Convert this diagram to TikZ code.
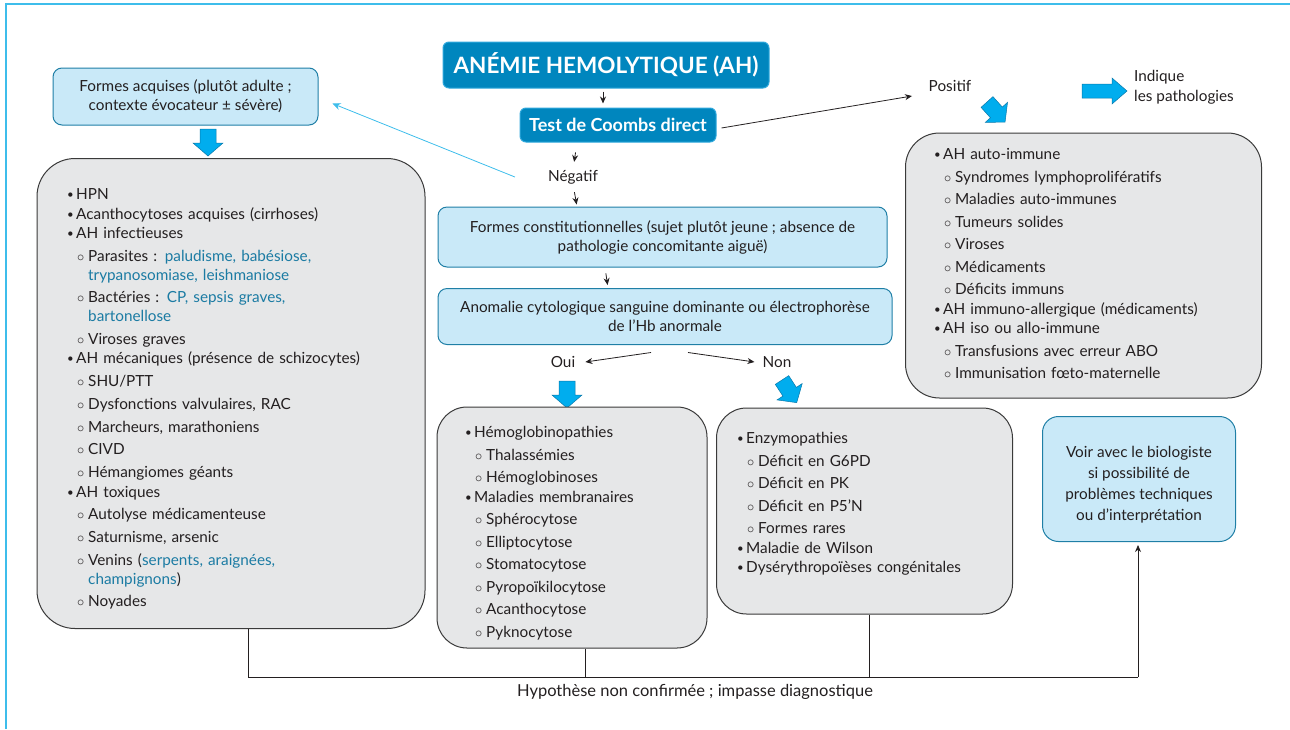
\documentclass[tikz,border=0pt]{standalone}
\usepackage{fontspec}
\setmainfont{Lato}
\usetikzlibrary{arrows.meta,calc}
\definecolor{ink}{HTML}{231F20}
\definecolor{framecol}{HTML}{3DBDEB}
\definecolor{titlefill}{HTML}{0086BE}
\definecolor{titledraw}{HTML}{2FA8DC}
\definecolor{lightfill}{HTML}{C9E9F8}
\definecolor{lightdraw}{HTML}{1F7FA6}
\definecolor{grayfill}{HTML}{E6E7E8}
\definecolor{graydraw}{HTML}{3A3A3A}
\definecolor{arrowfill}{HTML}{00ADEE}
\definecolor{arrowdraw}{HTML}{0B78AA}
\definecolor{bluetext}{HTML}{1B7BA3}
\newcommand\smallbul{\raisebox{1pt}{\scalebox{0.75}{\textbullet}}}
\newcommand\LiB[1]{\par\noindent\strut\makebox[9pt][l]{\smallbul}#1}
\newcommand\LiS[1]{\par\vspace{3pt}\noindent\strut\hspace*{10pt}\makebox[11pt][l]{$\circ$}#1}
\newcommand\LiT[1]{\par\vspace{3.3pt}\noindent\strut\hspace*{10pt}\makebox[11pt][l]{$\circ$}#1}
\newcommand\LiC[1]{\par\vspace{-1pt}\noindent\strut\hspace*{21pt}#1}
\newcommand\blu[1]{\textcolor{bluetext}{#1}}
\begin{document}
\begin{tikzpicture}[x=1pt,y=-1pt,
  txt/.style={text=ink, inner sep=0pt, font=\fontsize{15.3}{19.5}\selectfont},
  listnode/.style={txt, anchor=north west, align=left, text width=#1},
  lbox/.style={draw=lightdraw, fill=lightfill, line width=1pt, rounded corners=9pt, inner sep=0pt, text=ink, align=center, font=\fontsize{15.3}{19}\selectfont},
  gbox/.style={draw=graydraw, fill=grayfill, line width=1pt, rounded corners=#1, inner sep=0pt},
  tbox/.style={draw=titledraw, fill=titlefill, line width=1pt, rounded corners=6pt, text=white, inner sep=0pt},
  sarrow/.style={-{Stealth[length=7pt,width=6pt]}, line width=0.8pt, draw=ink},
  barrow/.style={-{Stealth[length=8pt,width=7pt]}, line width=0.8pt, draw=framecol},
  bline/.style={line width=0.8pt, draw=ink},
  blockarrow/.style={fill=arrowfill, draw=arrowdraw, line width=0.5pt},
  pics/bigarrow/.style={code={\draw[blockarrow] (-8,0) -- (-8,14) -- (-15,14) -- (0,27) -- (15,14) -- (8,14) -- (8,0) -- cycle;}}
]
\useasboundingbox (0,0) rectangle (1290,729);
\draw[framecol, line width=1.5pt] (6,729) -- (6,4) -- (1290,4);

% top
\node[tbox, minimum width=326, minimum height=46, font=\bfseries\fontsize{22.5}{26}\selectfont] (title) at (606,65) {ANÉMIE HEMOLYTIQUE (AH)};
\node[tbox, minimum width=196, minimum height=34, font=\bfseries\fontsize{18}{21}\selectfont] (coombs) at (618,125) {Test de Coombs direct};
\node[txt] (neg) at (573,177) {Négatif};
\node[txt] (positif) at (950,86) {Positif};
\node[txt, anchor=north west, align=left, font=\fontsize{15.3}{20}\selectfont] (legend) at (1134,70) {Indique\\les pathologies};
\draw[blockarrow] (1082,84) -- (1112,84) -- (1112,78) -- (1127,91) -- (1112,104) -- (1112,98) -- (1082,98) -- cycle;

% left
\node[lbox, minimum width=265, minimum height=57] (acq) at (185.5,96.5) {Formes acquises (plutôt adulte ;\\contexte évocateur ± sévère)};
\pic at (208,129) {bigarrow};
\node[gbox=38pt, minimum width=388, minimum height=470] (L) at (231,393.5) {};
\node[listnode=350pt] (Ltxt) at (67,180) {%
\LiB{HPN}
\LiB{Acanthocytoses acquises (cirrhoses)}
\LiB{AH infectieuses}
\LiT{Parasites : \blu{paludisme, babésiose,}}
\LiC{\blu{trypanosomiase, leishmaniose}}
\LiT{Bactéries : \blu{CP, sepsis graves,}}
\LiC{\blu{bartonellose}}
\LiT{Viroses graves}
\LiB{AH mécaniques (présence de schizocytes)}
\LiT{SHU/PTT}
\LiT{Dysfonctions valvulaires, RAC}
\LiT{Marcheurs, marathoniens}
\LiT{CIVD}
\LiT{Hémangiomes géants}
\LiB{AH toxiques}
\LiT{Autolyse médicamenteuse}
\LiT{Saturnisme, arsenic}
\LiT{Venins (\blu{serpents, araignées,}}
\LiC{\blu{champignons})}
\LiT{Noyades}};

% middle
\node[lbox, minimum width=449, minimum height=60] (const) at (662.5,237) {Formes constitutionnelles (sujet plutôt jeune ; absence de\\pathologie concomitante aiguë)};
\node[lbox, minimum width=454, minimum height=56] (anom) at (665,316.5) {Anomalie cytologique sanguine dominante ou électrophorèse\\de l’Hb anormale};
\node[txt] (oui) at (563,362) {Oui};
\node[txt] (non) at (777,362) {Non};
\pic at (567,381) {bigarrow};
\pic[rotate=33] at (782,380) {bigarrow};
\node[gbox=30pt, minimum width=270, minimum height=241] (M1) at (572,527.5) {};
\node[listnode=240pt] (M1txt) at (465,418) {%
\LiB{Hémoglobinopathies}
\LiS{Thalassémies}
\LiS{Hémoglobinoses}
\LiB{Maladies membranaires}
\LiS{Sphérocytose}
\LiS{Elliptocytose}
\LiS{Stomatocytose}
\LiS{Pyropoïkilocytose}
\LiS{Acanthocytose}
\LiS{Pyknocytose}};
\node[gbox=30pt, minimum width=296, minimum height=206] (M2) at (864.5,511) {};
\node[listnode=260pt] (M2txt) at (737,424) {%
\LiB{Enzymopathies}
\LiS{Déficit en G6PD}
\LiS{Déficit en PK}
\LiS{Déficit en P5’N}
\LiS{Formes rares}
\LiB{Maladie de Wilson}
\LiB{Dysérythropoïèses congénitales}};

% right
\pic[rotate=42] at (987,102) {bigarrow};
\node[gbox=34pt, minimum width=356, minimum height=265] (R) at (1083.5,265.5) {};
\node[listnode=320pt] (Rtxt) at (934,140) {%
\LiB{AH auto-immune}
\LiS{Syndromes lymphoprolifératifs}
\LiS{Maladies auto-immunes}
\LiS{Tumeurs solides}
\LiS{Viroses}
\LiS{Médicaments}
\LiS{Déficits immuns}
\LiB{AH immuno-allergique (médicaments)}
\LiB{AH iso ou allo-immune}
\LiS{Transfusions avec erreur ABO}
\LiS{Immunisation fœto-maternelle}};
\node[lbox, minimum width=193, minimum height=125, rounded corners=16pt] (voir) at (1139,479) {};
\node[txt, align=center, font=\fontsize{15.3}{21}\selectfont] (voirtxt) at (1139,485) {Voir avec le biologiste\\si possibilité de\\problèmes techniques\\ou d’interprétation};

\node[txt, font=\fontsize{16.5}{20}\selectfont] (hyp) at (695,692) {Hypothèse non confirmée ; impasse diagnostique};

% connectors
\draw[sarrow, shorten <=3pt, shorten >=4pt] (title.south -| 603,0) -- (coombs.north -| 603,0);
\draw[sarrow, shorten <=10pt, shorten >=8pt] (coombs.south -| 577,0) -- (neg.north);
\draw[sarrow, shorten <=8pt, shorten >=2pt] (neg.south) -- (const.north -| 577,0);
\draw[barrow] ([xshift=-33pt]neg.west) -- ([xshift=14pt,yshift=-7pt]acq.east);
\draw[sarrow] ([xshift=5pt,yshift=-3pt]coombs.east) -- ([xshift=-38pt,yshift=-10pt]positif.center);
\draw[sarrow, shorten <=6pt, shorten >=3pt] (const.south -| 605,0) -- (anom.north -| 608,0);
\draw[sarrow] ([xshift=-14pt,yshift=-7.5pt]anom.south) -- ([xshift=10pt]oui.east);
\draw[sarrow] ([xshift=23pt,yshift=-7.5pt]anom.south) -- ([xshift=-8pt]non.west);

\coordinate (bl) at (248,677);
\coordinate (br) at (1138,677);
\draw[bline] (L.south -| bl) -- (bl) -- (br);
\draw[bline] (M1.south -| 585,0) -- (585,677);
\draw[bline] (M2.south -| 869,0) -- (869,677);
\draw[sarrow, shorten >=3pt] (br) -- (voir.south -| br);
\end{tikzpicture}
\end{document}
